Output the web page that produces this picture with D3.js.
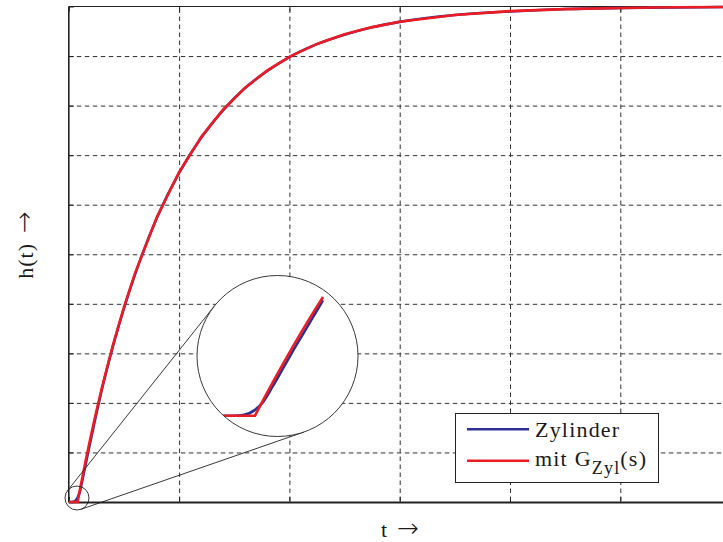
<!DOCTYPE html>
<html>
<head>
<meta charset="utf-8">
<script src="https://cdn.jsdelivr.net/npm/d3@7"></script>
<style>
  body { margin: 0; background: #fff; }
  text { font-family: "Liberation Serif", "DejaVu Serif", serif; fill: #1a1a1a; }
  .arrow { font-family: "DejaVu Sans", sans-serif; font-weight: 300; }
</style>
</head>
<body>
<svg id="chart" width="723" height="542"></svg>
<script>
// Step responses h(t): sample times (grid divisions) and the two responses
const time = [0, 0.025, 0.05, 0.08, 0.1, 0.125, 0.15, 0.175, 0.2, 0.225, 0.25,
              0.3, 0.4, 0.5, 0.6, 0.8, 1.0, 1.2, 1.4, 1.6, 1.8, 2.0, 2.25, 2.5,
              2.75, 3.0, 3.5, 4.0, 4.5, 5.0, 5.5, 6.0];
const zylinder = [0, 0, 0.001, 0.009, 0.021, 0.046, 0.073, 0.100, 0.126, 0.152, 0.178,
                  0.227, 0.314, 0.391, 0.459, 0.574, 0.664, 0.735, 0.791, 0.836, 0.870, 0.898, 0.924, 0.943,
                  0.958, 0.969, 0.983, 0.990, 0.995, 0.997, 0.998, 0.999];
const modellGZyl = [0, 0, 0, 0, 0.0235, 0.0522, 0.0800, 0.1069, 0.1331, 0.1586, 0.1832,
                    0.2304, 0.3168, 0.3935, 0.4615, 0.5756, 0.6655, 0.7364, 0.7922, 0.8362, 0.8710, 0.8983, 0.9245, 0.9439,
                    0.9584, 0.9691, 0.9829, 0.9906, 0.9948, 0.9971, 0.9984, 0.9991];

const xTicks = [0, 1, 2, 3, 4, 5, 6];
const yTicks = [0, 0.1, 0.2, 0.3, 0.4, 0.5, 0.6, 0.7, 0.8, 0.9, 1.0];
const seriesNames = ["Zylinder", "mit G"];
const seriesColors = ["#2e3192", "#ed1c24"];

const svg = d3.select("#chart");

const pLeft = 68.8, pRight = 730.6, pTop = 6.5, pBottom = 502;
const x = d3.scaleLinear().domain([0, 6]).range([pLeft, pRight]);
const y = d3.scaleLinear().domain([0, 1]).range([pBottom, pTop]);

// dashed grid
const gridX = svg.append("g").attr("transform", `translate(0,${pBottom - 1})`)
  .call(d3.axisBottom(x).tickValues(xTicks.slice(1)).tickSize(-(pBottom - pTop)).tickFormat(""));
const gridY = svg.append("g").attr("transform", `translate(${pLeft},0)`)
  .call(d3.axisLeft(y).tickValues(yTicks.slice(0, -1)).tickSize(-(pRight - pLeft)).tickFormat(""));
[gridX, gridY].forEach(g => {
  g.select(".domain").remove();
  g.selectAll("line").attr("stroke", "#333").attr("stroke-width", 1).attr("stroke-dasharray", "4.5,3.5");
});

// inward tick marks
const tickLen = 5;
const tL = svg.append("g").attr("transform", `translate(${pLeft},0)`)
  .call(d3.axisLeft(y).tickValues(yTicks).tickSize(-tickLen).tickFormat(""));
const tB = svg.append("g").attr("transform", `translate(0,${pBottom})`)
  .call(d3.axisBottom(x).tickValues(xTicks).tickSize(-tickLen).tickFormat(""));
const tT = svg.append("g").attr("transform", `translate(0,${pTop})`)
  .call(d3.axisTop(x).tickValues(xTicks).tickSize(-tickLen).tickFormat(""));
[tL, tB, tT].forEach(g => {
  g.select(".domain").remove();
  g.selectAll("line").attr("stroke", "#222").attr("stroke-width", 1);
});

// frame
svg.append("line").attr("x1", pLeft).attr("x2", pLeft).attr("y1", pTop).attr("y2", pBottom)
  .attr("stroke", "#222").attr("stroke-width", 1.6);
svg.append("line").attr("x1", pLeft).attr("x2", pRight).attr("y1", pTop).attr("y2", pTop)
  .attr("stroke", "#222").attr("stroke-width", 1.2);
svg.append("line").attr("x1", pLeft).attr("x2", pRight).attr("y1", pBottom + 0.5).attr("y2", pBottom + 0.5)
  .attr("stroke", "#222").attr("stroke-width", 1.8);

// curves
const dataZyl = time.map((t, i) => ({ t, h: zylinder[i] }));
const dataMod = time.map((t, i) => ({ t, h: modellGZyl[i] }));
svg.append("path").datum(dataZyl)
  .attr("d", d3.line().x(d => x(d.t)).y(d => y(d.h)).curve(d3.curveMonotoneX))
  .attr("fill", "none").attr("stroke", seriesColors[0]).attr("stroke-width", 2.6);
svg.append("path").datum(dataMod)
  .attr("d", d3.line().x(d => x(d.t)).y(d => y(d.h)))
  .attr("fill", "none").attr("stroke", seriesColors[1]).attr("stroke-width", 2.6);

// magnifier: small circle at the origin, large circle with the enlarged view
const c1 = { x: 77, y: 498, r: 12 };
const c2 = { x: 277.5, y: 356, r: 80.5 };
const dist = Math.hypot(c2.x - c1.x, c2.y - c1.y);
const base = Math.atan2(c2.y - c1.y, c2.x - c1.x);
const alpha = Math.asin((c2.r - c1.r) / dist);
// outer tangent lines joining the two circles
[base - alpha, base + alpha].forEach((th, k) => {
  const n = k === 0 ? [Math.sin(th), -Math.cos(th)] : [-Math.sin(th), Math.cos(th)];
  svg.append("line")
    .attr("x1", c1.x + c1.r * n[0]).attr("y1", c1.y + c1.r * n[1])
    .attr("x2", c2.x + c2.r * n[0]).attr("y2", c2.y + c2.r * n[1])
    .attr("stroke", "#222").attr("stroke-width", 0.9);
});
svg.append("circle").attr("cx", c1.x).attr("cy", c1.y).attr("r", c1.r)
  .attr("fill", "none").attr("stroke", "#222").attr("stroke-width", 0.9);
svg.append("circle").attr("cx", c2.x).attr("cy", c2.y).attr("r", c2.r)
  .attr("fill", "#fff").attr("stroke", "#222").attr("stroke-width", 0.9);

svg.append("clipPath").attr("id", "lens").append("circle")
  .attr("cx", c2.x).attr("cy", c2.y).attr("r", c2.r - 0.5);
const xi = d3.scaleLinear().domain([0, 0.25]).range([223, 323]);
const yi = d3.scaleLinear().domain([0, 0.2]).range([415.7, 286.1]);
const lens = svg.append("g").attr("clip-path", "url(#lens)");
const inLens = d => d.t <= 0.25;
lens.append("path").datum(dataZyl.filter(inLens))
  .attr("d", d3.line().x(d => xi(d.t)).y(d => yi(d.h)).curve(d3.curveMonotoneX))
  .attr("fill", "none").attr("stroke", seriesColors[0]).attr("stroke-width", 2.6);
lens.append("path").datum(dataMod.filter(inLens))
  .attr("d", d3.line().x(d => xi(d.t)).y(d => yi(d.h)))
  .attr("fill", "none").attr("stroke", seriesColors[1]).attr("stroke-width", 2.6);

// legend
const lg = svg.append("g");
lg.append("rect").attr("x", 455.5).attr("y", 413.5).attr("width", 203).attr("height", 69)
  .attr("fill", "#fff").attr("stroke", "#222").attr("stroke-width", 1);
[429.3, 460.7].forEach((ly, i) => {
  lg.append("line").attr("x1", 467).attr("x2", 529).attr("y1", ly).attr("y2", ly)
    .attr("stroke", seriesColors[i]).attr("stroke-width", 2.6);
});
lg.append("text").attr("x", 535).attr("y", 437).attr("font-size", 22)
  .attr("letter-spacing", 1.2).text(seriesNames[0]);
const t2 = lg.append("text").attr("x", 535).attr("y", 466).attr("font-size", 22).attr("letter-spacing", 1.2);
t2.append("tspan").text(seriesNames[1]);
t2.append("tspan").attr("font-size", 18).attr("dy", 8).text("Zyl");
t2.append("tspan").attr("dy", -8).text("(s)");

// axis labels
const yl = svg.append("text").attr("transform", "translate(33,245) rotate(-90)")
  .attr("text-anchor", "middle").attr("font-size", 22);
yl.append("tspan").attr("letter-spacing", 1).text("h(t)");
yl.append("tspan").attr("class", "arrow").attr("font-size", 26).attr("dx", 10).text("\u2192");
const xl = svg.append("text").attr("x", 381).attr("y", 537).attr("font-size", 22);
xl.append("tspan").text("t");
xl.append("tspan").attr("class", "arrow").attr("font-size", 26).attr("dx", 10).text("\u2192");
</script>
</body>
</html>
